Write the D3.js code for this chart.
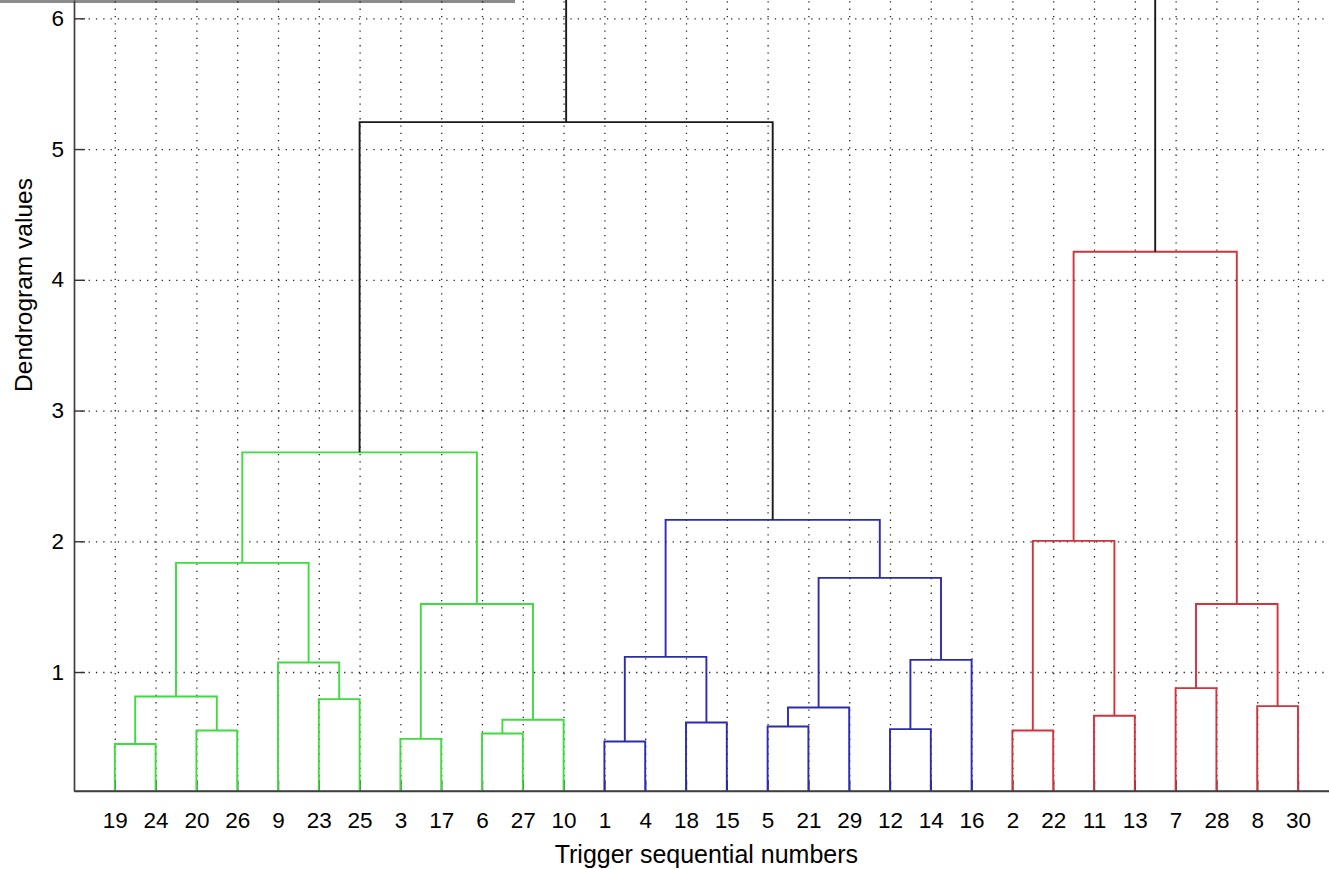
<!DOCTYPE html>
<html>
<head>
<meta charset="utf-8">
<script src="https://cdn.jsdelivr.net/npm/d3@7"></script>
<style>
  body { margin: 0; background: #fff; }
  svg { display: block; }
  text { font-family: "Liberation Sans", Arial, Helvetica, sans-serif; }
</style>
</head>
<body>
<div id="chart"></div>
<script>
// leaf labels in the order they sit along the x axis
var leafOrder = [19, 24, 20, 26, 9, 23, 25, 3, 17, 6, 27, 10, 1, 4, 18, 15,
                 5, 21, 29, 12, 14, 16, 2, 22, 11, 13, 7, 28, 8, 30];

// linkage rows [child, child, height]; leaves are 1..30, row k makes node 30+k
var linkage = [
  [19, 24, 0.449], [1, 4, 0.469], [3, 17, 0.489], [6, 27, 0.530],
  [20, 26, 0.553], [2, 22, 0.553], [12, 14, 0.563], [5, 21, 0.583],
  [18, 15, 0.614], [34, 10, 0.635], [11, 13, 0.665], [38, 29, 0.729],
  [8, 30, 0.739], [23, 25, 0.793], [31, 35, 0.813], [7, 28, 0.877],
  [9, 44, 1.073], [37, 16, 1.093], [32, 39, 1.116], [33, 40, 1.520],
  [46, 43, 1.520], [42, 48, 1.720], [45, 47, 1.835], [36, 41, 2.003],
  [49, 52, 2.164], [53, 50, 2.680], [54, 51, 4.215], [56, 55, 5.206],
  [58, 57, 6.600]
];

var groupColors = ["#3fdc3f", "#2b2bb6", "#d4323c"];
var aboveColor = "#1a1a1a";
var yTicks = [1, 2, 3, 4, 5, 6];
var yLimits = [0.09, 6.14];

var W = 1329, H = 869;
var nLeaves = leafOrder.length;

var svg = d3.select("#chart").append("svg")
  .attr("width", W).attr("height", H);

var x = d3.scaleLinear().domain([0, nLeaves + 1]).range([74, 74 + (nLeaves + 1) * 40.8]);
var y = d3.scaleLinear().domain(yLimits).range([791, 0]);

// positions of every node
var nodeX = {}, nodeH = {};
leafOrder.forEach(function (leaf, i) { nodeX[leaf] = i + 1; nodeH[leaf] = 0; });
linkage.forEach(function (row, k) {
  var id = nLeaves + k + 1;
  nodeX[id] = (nodeX[row[0]] + nodeX[row[1]]) / 2;
  nodeH[id] = row[2];
});

// matlab style colour threshold: 0.7 * max height
var threshold = 0.7 * d3.max(linkage, function (d) { return d[2]; });
var parentOf = {};
linkage.forEach(function (row, k) { parentOf[row[0]] = nLeaves + k + 1; parentOf[row[1]] = nLeaves + k + 1; });
var groupRoots = [];
linkage.forEach(function (row, k) {
  var id = nLeaves + k + 1;
  if (row[2] < threshold && (!parentOf[id] || nodeH[parentOf[id]] >= threshold)) groupRoots.push(id);
});
groupRoots.sort(function (a, b) { return nodeX[a] - nodeX[b]; });
var nodeColor = {};
function paint(id, c) {
  if (id <= nLeaves) return;
  nodeColor[id] = c;
  var row = linkage[id - nLeaves - 1];
  paint(row[0], c); paint(row[1], c);
}
groupRoots.forEach(function (id, i) { paint(id, groupColors[i % groupColors.length]); });

// grey strip along the top (figure edge)
svg.append("rect").attr("x", 0).attr("y", 0).attr("width", 515).attr("height", 3)
  .attr("fill", "#8c8c8c");

svg.append("defs").append("clipPath").attr("id", "plotclip")
  .append("rect").attr("x", x(0)).attr("y", -400)
  .attr("width", x(nLeaves + 1) - x(0)).attr("height", y(yLimits[0]) + 400);

var plotW = x(nLeaves + 1) - x(0);

// dotted grid
var gridY = svg.append("g").attr("transform", "translate(" + x(0) + ",0)")
  .call(d3.axisLeft(y).tickValues(yTicks).tickSize(-plotW).tickFormat(""));
var gridX = svg.append("g").attr("transform", "translate(0," + y(yLimits[0]) + ")")
  .call(d3.axisBottom(x).tickValues(d3.range(1, nLeaves + 1)).tickSize(-(y(yLimits[0]) + 20)).tickFormat(""));
[gridX, gridY].forEach(function (g) {
  g.select(".domain").remove();
  g.selectAll("line").attr("stroke", "#000").attr("stroke-width", 1.3)
    .attr("stroke-dasharray", "1.3,6").attr("opacity", 0.85);
});

// axes with inward ticks
var xAxis = svg.append("g").attr("transform", "translate(0," + y(yLimits[0]) + ")")
  .call(d3.axisBottom(x).tickValues(d3.range(1, nLeaves + 1))
    .tickFormat(function (i) { return leafOrder[i - 1]; })
    .tickSize(-11).tickSizeOuter(0).tickPadding(21));
var yAxis = svg.append("g").attr("transform", "translate(" + x(0) + ",0)")
  .call(d3.axisLeft(y).tickValues(yTicks).tickFormat(d3.format("d"))
    .tickSize(-11).tickSizeOuter(0).tickPadding(10));
[xAxis, yAxis].forEach(function (g) {
  g.selectAll("line").attr("stroke", "#333").attr("stroke-width", 1.4);
  g.select(".domain").attr("stroke", "#404040").attr("stroke-width", 1.7);
  g.selectAll("text").attr("fill", "#000").style("font-size", "22.5px");
});

// dendrogram links
var line = d3.line().x(function (d) { return x(d[0]); }).y(function (d) { return y(d[1]); });
svg.append("g").attr("clip-path", "url(#plotclip)")
  .selectAll("path.link")
  .data(linkage)
  .enter()
  .append("path")
  .attr("class", "link")
  .attr("fill", "none")
  .attr("stroke-width", 1.9)
  .attr("stroke", function (d, k) { return nodeColor[nLeaves + k + 1] || aboveColor; })
  .attr("d", function (d) {
    return line([[nodeX[d[0]], nodeH[d[0]]], [nodeX[d[0]], d[2]],
                 [nodeX[d[1]], d[2]], [nodeX[d[1]], nodeH[d[1]]]]);
  });

// redraw axis lines on top
svg.append("line").attr("x1", x(0)).attr("x2", x(nLeaves + 1))
  .attr("y1", y(yLimits[0])).attr("y2", y(yLimits[0]))
  .attr("stroke", "#404040").attr("stroke-width", 1.7);

// axis labels
svg.append("text")
  .attr("x", (x(0) + x(nLeaves + 1)) / 2).attr("y", 863)
  .attr("text-anchor", "middle").style("font-size", "25px")
  .text("Trigger sequential numbers");
svg.append("text")
  .attr("transform", "translate(32,285) rotate(-90)")
  .attr("text-anchor", "middle").style("font-size", "24.5px")
  .text("Dendrogram values");
</script>
</body>
</html>
